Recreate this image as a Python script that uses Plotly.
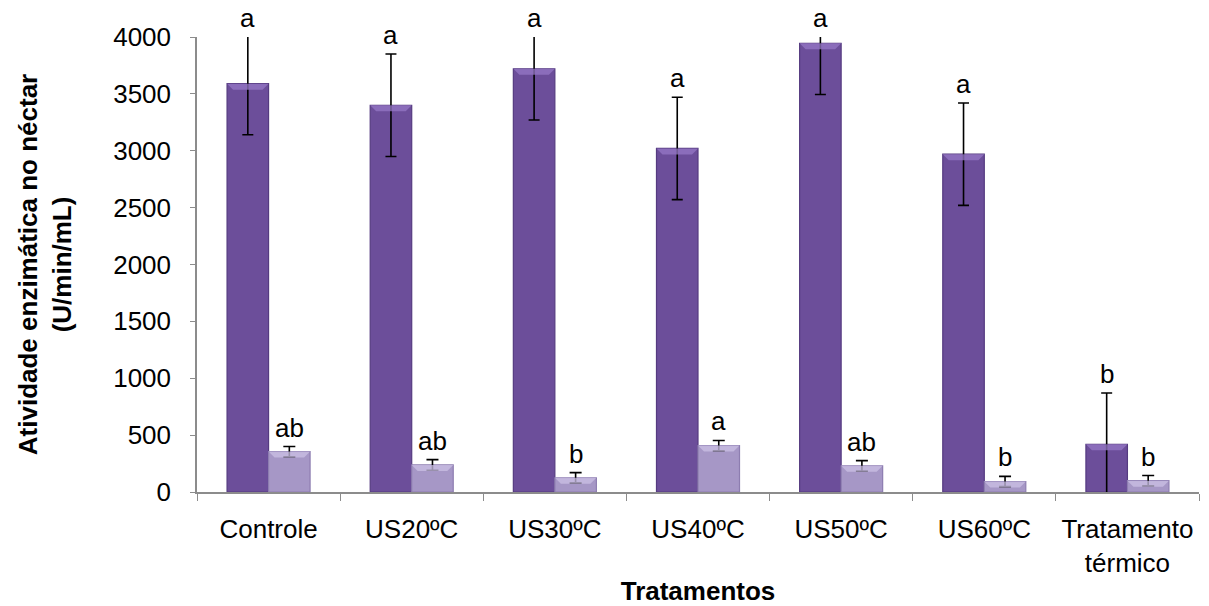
import plotly.graph_objects as go

categories = ["Controle", "US20ºC", "US30ºC", "US40ºC", "US50ºC", "US60ºC", "Tratamento<br>térmico"]

# first series (dark bars)
serie1 = [3590, 3400, 3720, 3020, 3945, 2970, 420]
erro1 = [450, 450, 450, 450, 450, 450, 450]
letras1 = ["a", "a", "a", "a", "a", "a", "b"]

# second series (light bars)
serie2 = [355, 238, 125, 408, 230, 92, 100]
erro2 = [45, 47, 45, 45, 46, 45, 45]
letras2 = ["ab", "ab", "b", "a", "ab", "b", "b"]

y_max = 4000
y_ticks = list(range(0, 4001, 500))

FONT = "Liberation Sans, Arial, sans-serif"
FS = 26
AXIS_GREY = "#8c8c8c"

W, H = 1209, 606
M_L, M_R, M_T, M_B = 197, 10, 37, 114
BARGAP = 0.42
# pixel width of one bar inside a category group of two
bar_px = (W - M_L - M_R) / len(categories) * (1 - BARGAP) / 2

fig = go.Figure()
fig.add_trace(go.Bar(
    x=categories, y=serie1, name="s1",
    marker=dict(color="#6c4e9a", line=dict(color="#553b80", width=1.2)),
    error_y=dict(type="data", array=erro1, color="black", thickness=1.6, width=5.5),
))
fig.add_trace(go.Bar(
    x=categories, y=serie2, name="s2",
    marker=dict(color="#a697c6", line=dict(color="#8d7db0", width=1.2)),
    error_y=dict(type="data", array=erro2, color="black", thickness=1.6, width=6),
))

# bevelled top face of each bar
bev = 6
for i, cat in enumerate(categories):
    for vals, side, col in ((serie1, -1, "#9578c6"), (serie2, 1, "#cbc0e4")):
        x0, x1 = (-bar_px, 0) if side < 0 else (0, bar_px)
        path = (f"M {x0},0 L {x1},0 L {x1 - bev},{-bev} "
                f"L {x0 + bev},{-bev} Z")
        fig.add_shape(
            type="path", path=path, xref="x", yref="y",
            xsizemode="pixel", ysizemode="pixel",
            xanchor=cat, yanchor=vals[i],
            fillcolor=col, line=dict(width=0), opacity=0.75, layer="above",
        )

# significance letters above each error bar
for i, cat in enumerate(categories):
    for vals, errs, letters, off in ((serie1, erro1, letras1, -0.5), (serie2, erro2, letras2, 0.5)):
        top = min(vals[i] + errs[i], y_max)
        fig.add_annotation(
            x=cat, y=top, text=letters[i], showarrow=False,
            xref="x", yref="y", xshift=off * bar_px, yshift=19,
            font=dict(family=FONT, size=FS, color="black"),
            yanchor="middle", xanchor="center",
        )

fig.update_layout(
    width=W, height=H,
    margin=dict(l=M_L, r=M_R, t=M_T, b=M_B),
    paper_bgcolor="white", plot_bgcolor="white",
    barmode="group", bargap=BARGAP, bargroupgap=0,
    showlegend=False,
    font=dict(family=FONT, size=FS, color="black"),
)
fig.update_xaxes(
    showline=True, linecolor=AXIS_GREY, linewidth=1.5,
    ticks="outside", tickson="boundaries", ticklen=7, tickcolor=AXIS_GREY,
    tickfont=dict(family=FONT, size=FS), ticklabelstandoff=13, automargin=False,
    title=dict(text="<b>Tratamentos</b>", font=dict(family=FONT, size=FS), standoff=11),
)
fig.update_yaxes(
    range=[0, y_max], tickvals=y_ticks, showgrid=False, zeroline=False,
    showline=True, linecolor=AXIS_GREY, linewidth=1.5,
    ticks="outside", ticklen=5, tickcolor=AXIS_GREY,
    tickfont=dict(family=FONT, size=FS), ticklabelstandoff=14, automargin=False,
    title=dict(text="<b>Atividade enzimática no néctar<br>(U/min/mL)</b>",
               font=dict(family=FONT, size=FS), standoff=34),
)

fig.write_html("out.html")
